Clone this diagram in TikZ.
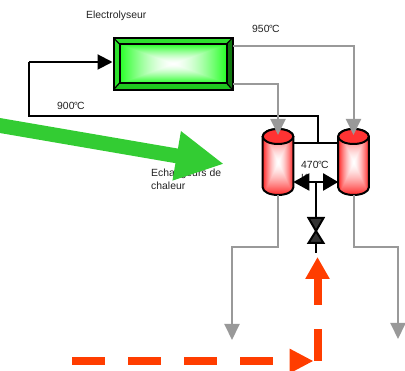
\documentclass[tikz,border=0pt]{standalone}
\usepackage{fontspec}
\setmainfont{Liberation Sans}
\usetikzlibrary{arrows.meta}
\pgfdeclarefunctionalshading{greenglow}{\pgfpointorigin}{\pgfpoint{100bp}{100bp}}{}{
  50 sub abs exch 50 sub abs
  2 copy lt {exch} if pop 25 div dup 1 gt {pop 1} if
  dup sqrt mul
  0.85 mul 1 exch sub
  dup 1 exch
}
\pgfdeclarefunctionalshading{redglow}{\pgfpointorigin}{\pgfpoint{100bp}{100bp}}{}{
  50 sub abs exch 50 sub abs
  2 copy lt {exch} if pop 25 div dup 1 gt {pop 1} if
  dup sqrt mul
  0.85 mul 1 exch sub
  1 exch dup
}
\definecolor{lbl}{HTML}{222222}
\definecolor{pipe}{HTML}{999999}
\definecolor{flowgreen}{HTML}{33CC33}
\definecolor{floworange}{HTML}{FF3D00}
\definecolor{capred}{HTML}{FF3333}
\definecolor{bevellight}{HTML}{2EE02E}
\definecolor{bevelmid}{HTML}{1FC81F}
\definecolor{beveldark}{HTML}{0F7A0F}
\tikzset{l/.style={font=\fontsize{10.4}{13}\selectfont,text=lbl,inner sep=0pt,align=left}}
\tikzset{pipeline/.style={pipe,line width=2pt,-{Triangle[length=16pt,width=15pt]}}}
\tikzset{blackline/.style={black,line width=2pt}}
\tikzset{blackarrow/.style={blackline,{Triangle[length=16pt,width=17pt]}-{Triangle[length=15pt,width=17pt]}}}
\tikzset{hx/.style={minimum width=30.6pt,minimum height=66pt,inner sep=0pt,outer sep=0pt}}
\newcommand{\hxbody}[1]{
  \shadedraw[shading=redglow,blackline] (#1.west |- #1.north) ++(0,7.5) arc [start angle=180,end angle=360,x radius=15.3,y radius=7.5]
    -- ++(0,51) arc [start angle=0,end angle=180,x radius=15.3,y radius=7.5] -- cycle;
  \filldraw[blackline,fill=capred] (#1.north) ++(0,7.5) ellipse [x radius=15.3,y radius=7.5];
}
\newcommand{\dg}{\kern-0.7pt°\kern-1pt C}
\begin{document}
\begin{tikzpicture}[x=1pt,y=-1pt]
  \useasboundingbox (0,0) rectangle (405,371);
  % texts first, the big arrow runs over them
  \node[l,anchor=west] (t1) at (86,15.5) {Electrolyseur};
  \node[l,anchor=west] (t2) at (252,29) {950\dg};
  \node[l,anchor=west] (t3) at (57,106) {900\dg};
  \node[l,anchor=north west] (t4) at (151,168.5) {Echangeurs de\\chaleur};
  \node[l,anchor=west] (t5) at (301,164.5) {470\dg};
  \node[l,anchor=west] (t6) at (301,178) {K};
  % electrolyser
  \node[minimum width=119pt,minimum height=52pt,inner sep=0pt,outer sep=0pt] (E) at (173,63.8) {};
  \node[minimum width=107pt,minimum height=39pt,inner sep=0pt,outer sep=0pt] (I) at (173,63.5) {};
  \fill[bevellight] (E.north west) -- (E.north east) -- (I.north east) -- (I.north west) -- cycle;
  \fill[bevelmid] (E.south west) -- (E.south east) -- (I.south east) -- (I.south west) -- cycle;
  \fill[bevellight] (E.north west) -- (E.south west) -- (I.south west) -- (I.north west) -- cycle;
  \fill[beveldark] (E.north east) -- (E.south east) -- (I.south east) -- (I.north east) -- cycle;
  \shade[shading=greenglow] (I.north west) rectangle (I.south east);
  \draw[blackline] (I.north west) rectangle (I.south east);
  \draw[blackline,line width=1.2pt] (E.north west) -- (I.north west) (E.north east) -- (I.north east) (E.south west) -- (I.south west) (E.south east) -- (I.south east);
  \draw[blackline] (E.north west) rectangle (E.south east);
  % heat exchangers
  \node[hx] (A) at (278,162) {};
  \node[hx] (B) at (353.5,162) {};
  \hxbody{A}
  \hxbody{B}
  % black piping
  \coordinate (L) at (29,62);
  \coordinate (J) at (317.5,143);
  \draw[blackline,-{Triangle[length=15pt,width=15pt]}] (L) -- (112.5,62);
  \draw[blackline] (L) |- (J |- 0,116) -- (J);
  \draw[blackline] (A.east |- J) -- (B.west |- J);
  % grey piping
  \coordinate (G1) at (233,46.5);
  \coordinate (G2) at (233,84);
  \coordinate (P1) at (232,340);
  \coordinate (P2) at (398,339);
  \draw[pipeline] (G1) -| (353.5,135);
  \draw[pipeline] (G2) -| (278,135);
  \draw[pipeline] (A.south) -- ++(0,52) -| (P1);
  \draw[pipeline] (B.south) -- ++(0,52) -| (P2);
  % valve
  \coordinate (V) at (316,231);
  \draw[blackline] (316,182) -- (316,253);
  \draw[blackline,fill=black!80] (V) -- ++(-7.5,-13) -- ++(15,0) -- cycle;
  \draw[blackline,fill=black!80] (V) -- ++(-7.5,12) -- ++(15,0) -- cycle;
  \draw[blackarrow] (A.east |- 0,182) -- (B.west |- 0,182);
  % flows
  \coordinate (F1) at (-6,124.5);
  \coordinate (F2) at (224,164);
  \draw[flowgreen,line width=14.8pt,-{Triangle[length=48pt,width=46.5pt]}] (F1) -- (F2);
  \coordinate (O1) at (72,361);
  \coordinate (O2) at (313.5,361);
  \coordinate (O3) at (317.5,361);
  \coordinate (O4) at (317.5,257);
  \draw[floworange,line width=8pt,dash pattern=on 32.5pt off 23.5pt,-{Triangle[length=24pt,width=23pt]}] (O1) -- (O2);
  \draw[floworange,line width=8pt,dash pattern=on 32pt off 24pt,-{Triangle[length=22pt,width=23pt]}] (O3) -- (O4);
\end{tikzpicture}
\end{document}
